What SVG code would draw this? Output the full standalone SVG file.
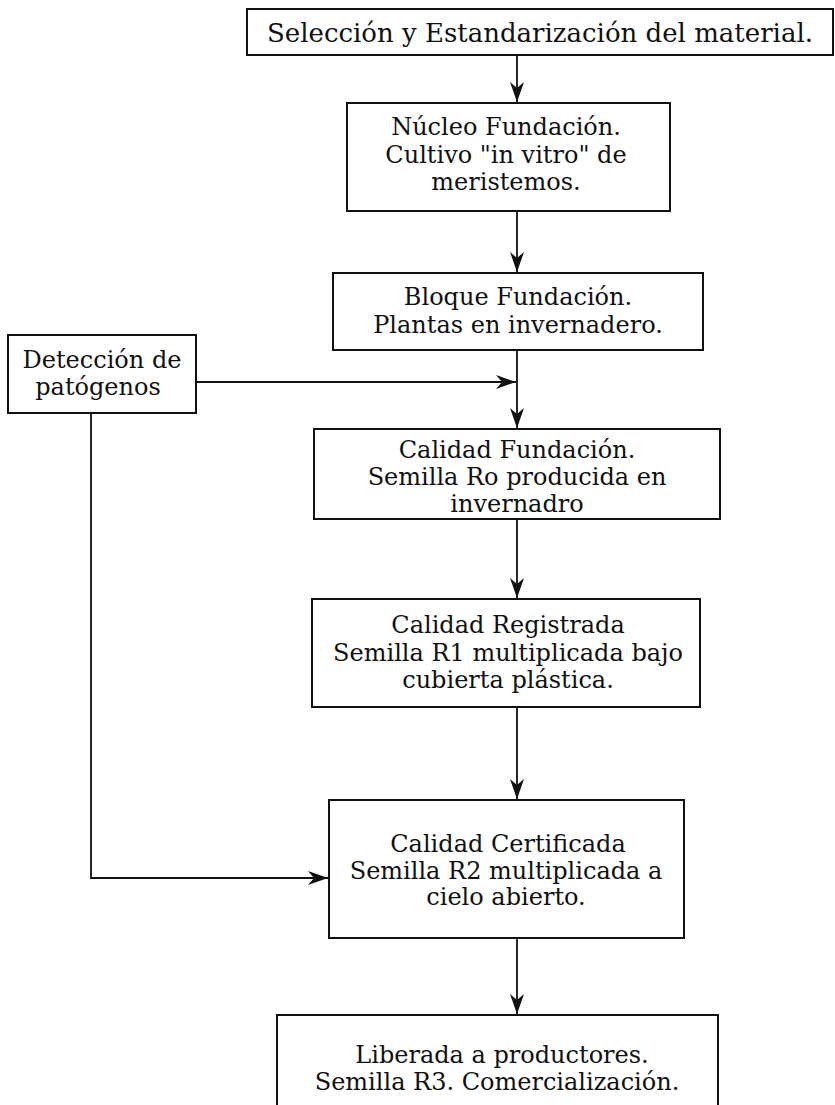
<svg xmlns="http://www.w3.org/2000/svg" width="835" height="1105" viewBox="0 0 835 1105">
<style>
.box{fill:#fff;stroke:#111;stroke-width:2}
.t{font-family:"DejaVu Serif","Liberation Serif",serif;font-size:24px;fill:#111;text-anchor:middle}
.big{font-size:26px}
.c{fill:none;stroke:#111;stroke-width:1.8}
</style>
<defs>
<marker id="ah" markerUnits="userSpaceOnUse" markerWidth="22" markerHeight="16" refX="20" refY="8" orient="auto"><path d="M20,8 L0,1 L6,8 L0,15 Z" fill="#111"/></marker>
</defs>
<rect width="835" height="1105" fill="#fff"/>
<g id="connectors">
<path class="c" d="M517,55 V102" marker-end="url(#ah)"/>
<path class="c" d="M517,211 V272" marker-end="url(#ah)"/>
<path class="c" d="M517,350 V428" marker-end="url(#ah)"/>
<path class="c" d="M196,382 H516" marker-end="url(#ah)"/>
<path class="c" d="M517,519 V598" marker-end="url(#ah)"/>
<path class="c" d="M517,707 V799" marker-end="url(#ah)"/>
<path class="c" d="M91,413 V878 H328" marker-end="url(#ah)"/>
<path class="c" d="M517,938 V1014" marker-end="url(#ah)"/>
</g>
<g id="n-seleccion">
<rect class="box" x="247" y="9" width="586" height="46"/>
<text class="t big" x="540" y="42">Selección y Estandarización del material.</text>
</g>
<g id="n-nucleo">
<rect class="box" x="347" y="103" width="323" height="108"/>
<text class="t" x="506" y="135">Núcleo Fundación.</text>
<text class="t" x="506" y="163">Cultivo "in vitro" de</text>
<text class="t" x="506" y="190">meristemos.</text>
</g>
<g id="n-bloque">
<rect class="box" x="333" y="273" width="370" height="77"/>
<text class="t" x="518" y="305">Bloque Fundación.</text>
<text class="t" x="518" y="333">Plantas en invernadero.</text>
</g>
<g id="n-deteccion">
<rect class="box" x="8" y="335" width="188" height="78"/>
<text class="t" x="102" y="368">Detección de</text>
<text class="t" x="98" y="395">patógenos</text>
</g>
<g id="n-calidad-fundacion">
<rect class="box" x="314" y="429" width="406" height="90"/>
<text class="t" x="517" y="458">Calidad Fundación.</text>
<text class="t" x="517" y="485">Semilla Ro producida en</text>
<text class="t" x="517" y="512">invernadro</text>
</g>
<g id="n-calidad-registrada">
<rect class="box" x="312" y="599" width="388" height="108"/>
<text class="t" x="508" y="633">Calidad Registrada</text>
<text class="t" x="508" y="661">Semilla R1 multiplicada bajo</text>
<text class="t" x="508" y="688">cubierta plástica.</text>
</g>
<g id="n-calidad-certificada">
<rect class="box" x="329" y="800" width="355" height="138"/>
<text class="t" x="508" y="852">Calidad Certificada</text>
<text class="t" x="506" y="879">Semilla R2 multiplicada a</text>
<text class="t" x="506" y="905">cielo abierto.</text>
</g>
<g id="n-liberada">
<rect class="box" x="277" y="1015" width="441" height="100"/>
<text class="t" x="502" y="1063">Liberada a productores.</text>
<text class="t" x="497" y="1090">Semilla R3. Comercialización.</text>
</g>
</svg>
